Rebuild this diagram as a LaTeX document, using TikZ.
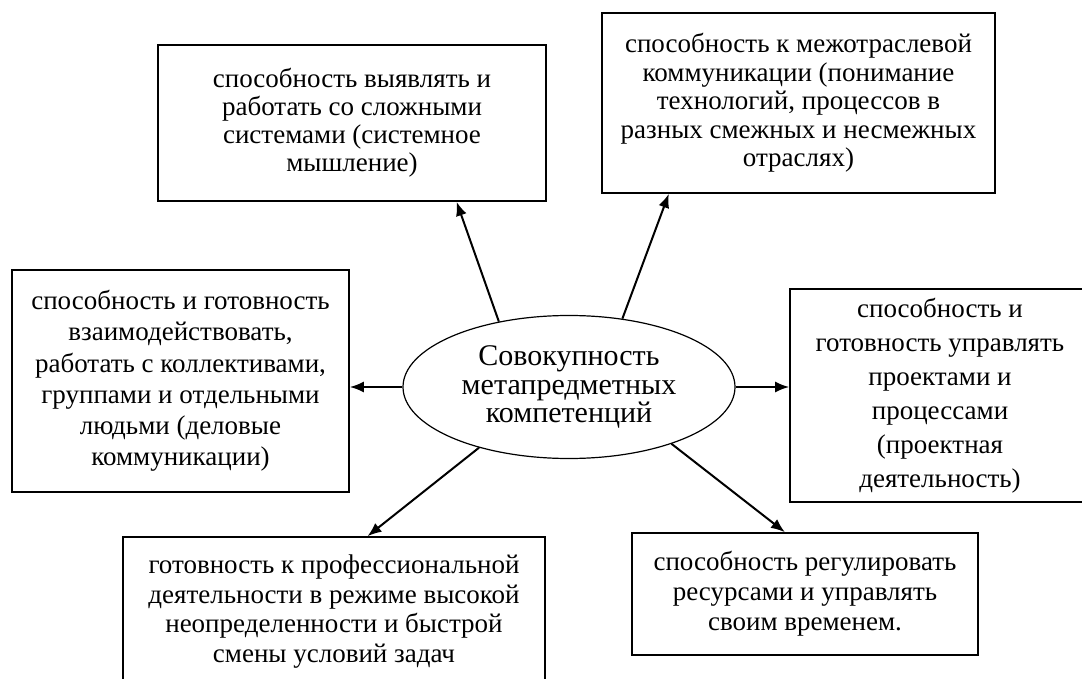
\documentclass[tikz,border=0pt]{standalone}
\usepackage{fontspec}
\setmainfont{Liberation Serif}
\usetikzlibrary{shapes.geometric,arrows.meta}

\tikzset{
	box/.style={draw, line width=0.8pt, align=center, inner sep=0pt, font=\fontsize{13.5}{#1}\selectfont},
	box/.default=15,
	arr/.style={-{Latex[length=7pt,width=5.5pt]}, line width=1pt},
}

\begin{document}
\begin{tikzpicture}[x=0.5pt, y=-0.5pt]
	\useasboundingbox (0,0) rectangle (1082,679);

	% centre
	\node [ellipse, draw, line width=0.6pt, inner sep=0pt, minimum width=166pt, minimum height=71.5pt, align=center, font=\fontsize{15}{14.2}\selectfont] (ell) at (569,387) {Совокупность\\метапредметных\\компетенций};

	% boxes
	\node [box=14, minimum width=194pt, minimum height=78pt] (sys) at (352,123) {способность выявлять и\\работать со сложными\\системами (системное\\мышление)};
	\node [box=14.2, minimum width=196.5pt, minimum height=90pt] (inter) at (798.5,103) {способность к межотраслевой\\коммуникации (понимание\\технологий, процессов в\\разных смежных и несмежных\\отраслях)};
	\node [box=15.6, minimum width=168.5pt, minimum height=111pt] (team) at (180.5,381) {способность и готовность\\взаимодействовать,\\работать с коллективами,\\группами и отдельными\\людьми (деловые\\коммуникации)};
	\node [box=17, minimum width=150pt, minimum height=106.5pt] (proj) at (940,395.5) {способность и\\готовность управлять\\проектами и\\процессами\\(проектная\\деятельность)};
	\node [box=14.7, minimum width=211pt, minimum height=74.5pt] (prof) at (334,611.5) {готовность к профессиональной\\деятельности в режиме высокой\\неопределенности и быстрой\\смены условий задач};
	\node [box=15, minimum width=173pt, minimum height=61pt] (res) at (805,594) {способность регулировать\\ресурсами и управлять\\своим временем.};

	% arrows
	\draw [arr] (ell.137.8) -- (sys.-37.7);
	\draw [arr] (ell.52.9) -- (inter.-145.3);
	\draw [arr] (ell.west) -- (ell.west -| team.east);
	\draw [arr] (ell.east) -- (ell.east -| proj.west);
	\draw [arr] (ell.-146.2) -- (prof.66.6);
	\draw [arr] (ell.-29) -- (res.108.2);
\end{tikzpicture}
\end{document}
